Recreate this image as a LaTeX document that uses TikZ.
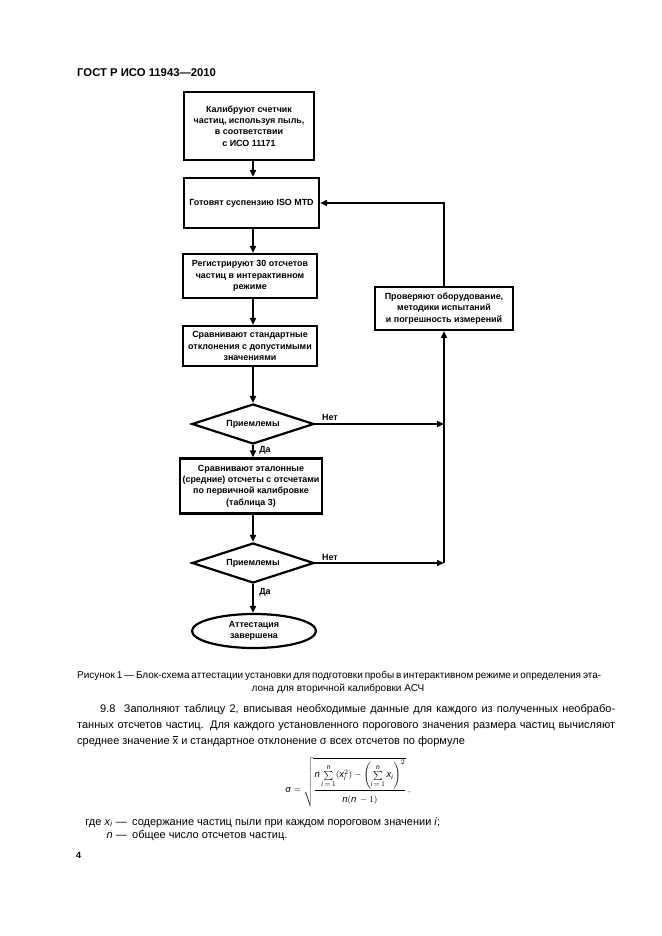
\documentclass[tikz,border=0pt]{standalone}
\usepackage{fontspec}
\setmainfont{Liberation Sans}
\usepackage{amsmath}
\usetikzlibrary{shapes.geometric,arrows.meta}
\newcommand{\vn}{\text{\itshape n}}
\newcommand{\vx}{\text{\itshape x}}
\newcommand{\vi}{\text{\itshape i}}
\tikzset{
  fbox/.style={draw, line width=2.2pt, align=center, inner sep=0pt,
    font=\fontsize{8.9}{11.3}\selectfont\bfseries},
  fdia/.style={draw, diamond, line width=2.2pt, inner sep=0pt, aspect=3,
    font=\fontsize{8.9}{11.3}\selectfont\bfseries},
  fend/.style={draw, ellipse, line width=2.2pt, align=center, inner sep=0pt,
    font=\fontsize{8.9}{11.3}\selectfont\bfseries},
  flow/.style={line width=2.2pt, -{Triangle[length=7pt,width=6pt]}},
  lbl/.style={inner sep=0pt, font=\fontsize{8.9}{10}\selectfont\bfseries},
  bodytxt/.style={inner sep=0pt, anchor=base west, font=\fontsize{11}{13}\selectfont},
  captxt/.style={inner sep=0pt, anchor=base west, font=\fontsize{10}{12}\selectfont},
  hdrtxt/.style={inner sep=0pt, anchor=base west, font=\fontsize{11.3}{13}\selectfont\bfseries},
}
\begin{document}
\begin{tikzpicture}[x=1pt,y=-1pt]
\useasboundingbox (0,0) rectangle (661,936);
\fill[white] (0,0) rectangle (661,936);

\node[hdrtxt] (hdr) at (77,77) {ГОСТ Р ИСО 11943—2010};

\coordinate (col) at (253,0);
\node[fbox, minimum width=130pt, minimum height=68pt] (b1) at (249,126)
  {Калибруют счетчик\\частиц, используя пыль,\\в соответствии\\с ИСО 11171};
\node[fbox, minimum width=135pt, minimum height=50pt] (b2) at (251.5,203)
  {Готовят суспензию ISO MTD};
\node[fbox, minimum width=134pt, minimum height=44pt] (b3) at (250,276)
  {Регистрируют 30 отсчетов\\частиц в интерактивном\\режиме};
\node[fbox, minimum width=134pt, minimum height=40pt] (b4) at (250,346)
  {Сравнивают стандартные\\отклонения с допустимыми\\значениями};
\node[fdia, minimum width=122pt, minimum height=40pt] (d1) at (253,424) {Приемлемы};
\node[fbox, minimum width=142pt, minimum height=55pt] (b5) at (251,486)
  {Сравнивают эталонные\\(средние) отсчеты с отсчетами\\по первичной калибровке\\(таблица 3)};
\node[fdia, minimum width=122pt, minimum height=40pt] (d2) at (253,563) {Приемлемы};
\node[fend, minimum width=124pt, minimum height=34pt] (e1) at (254,631)
  {Аттестация\\завершена};
\node[fbox, minimum width=138pt, minimum height=43pt] (b6) at (444,308.5)
  {Проверяют оборудование,\\методики испытаний\\и погрешность измерений};

\draw[flow] (b1.south -| col) -- (b2.north -| col);
\draw[flow] (b2.south -| col) -- (b3.north -| col);
\draw[flow] (b3.south -| col) -- (b4.north -| col);
\draw[flow] (b4.south -| col) -- (d1.north);
\draw[flow] (d1.south) -- (b5.north -| col);
\draw[flow] (b5.south -| col) -- (d2.north);
\draw[flow] (d2.south) -- (e1.north -| col);
\draw[flow] (d1.east) -- (d1.east -| b6.south);
\draw[flow] (d2.east) -- (d2.east -| b6.south);
\draw[flow] (d2.east -| b6.south) -- (b6.south);
\draw[flow] (b6.north) |- (b2.east);

\node[lbl] (no1) at (330,417) {Нет};
\node[lbl] (no2) at (330,557) {Нет};
\node[lbl] (yes1) at (265,450) {Да};
\node[lbl] (yes2) at (265,592) {Да};

\node[captxt] (c1) at (77,678) {\makebox[514pt][s]{Рисунок 1 — Блок-схема аттестации установки для подготовки пробы в интерактивном режиме и определения эта-}};
\node[captxt, anchor=base] (c2) at (338,691) {лона для вторичной калибровки АСЧ};

\node[bodytxt] (p1) at (100,712) {\makebox[515pt][s]{9.8\ \ Заполняют таблицу 2, вписывая необходимые данные для каждого из полученных необрабо-}};
\node[bodytxt] (p2) at (77,728) {\makebox[538pt][s]{танных отсчетов частиц. Для каждого установленного порогового значения размера частиц вычисляют}};
\node[bodytxt] (p3) at (77,744) {среднее значение $\overline{\mbox{x}}$ и стандартное отклонение σ всех отсчетов по формуле};

\node[inner sep=0pt, font=\fontsize{9.5}{11}\selectfont] (f1) at (348,782)
  {$\text{σ} = \sqrt{\dfrac{\vn\sum\limits_{\vi\,=\,1}^{\vn}(\vx_{\vi}^{2})-\Biggl(\sum\limits_{\vi\,=\,1}^{\vn}\vx_{\vi}\Biggr)^{2}}{\rule{0pt}{11pt}\vn(\vn\,-1)}}\,,$};

\node[bodytxt, anchor=base east] (w1) at (127,825) {где \textit{x}\textsubscript{\textit{i}} —};
\node[bodytxt] (w1t) at (132,825) {содержание частиц пыли при каждом пороговом значении \textit{i};};
\node[bodytxt, anchor=base east] (w2) at (127,838) {\textit{n} —};
\node[bodytxt] (w2t) at (132,838) {общее число отсчетов частиц.};

\node[inner sep=0pt, anchor=base west, font=\fontsize{9}{10}\selectfont\bfseries] (pg) at (76,858) {4};
\end{tikzpicture}
\end{document}
